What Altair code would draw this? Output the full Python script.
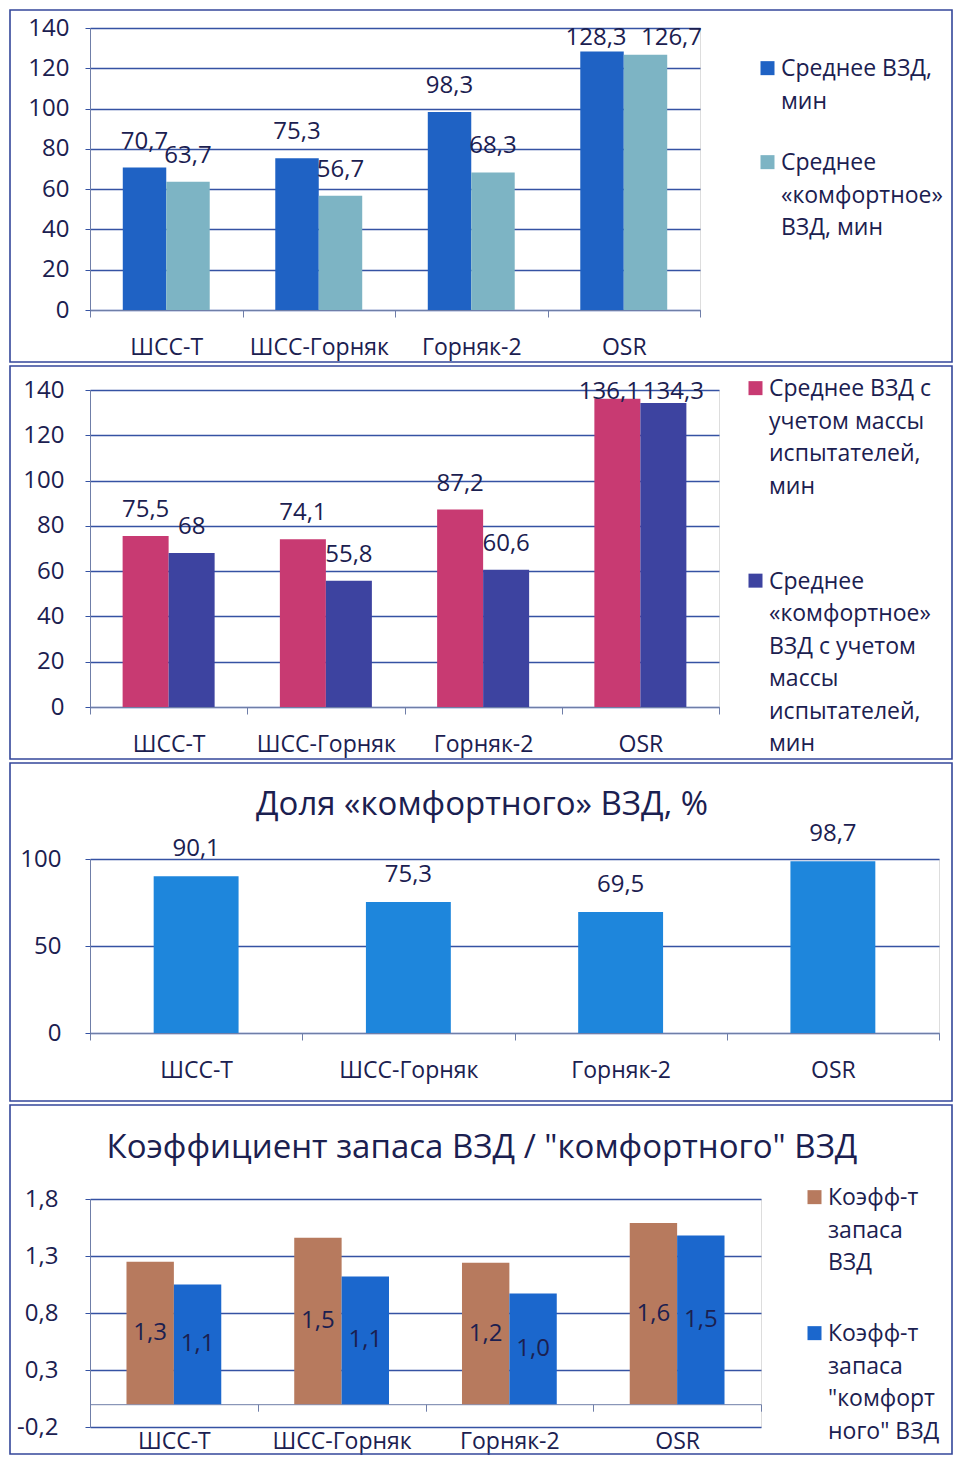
import altair as alt
import pandas as pd

# ---------------- data ----------------
categories = ["ШСС-Т", "ШСС-Горняк", "Горняк-2", "OSR"]

p1_series = ["Среднее ВЗД,|мин", "Среднее|«комфортное»|ВЗД, мин"]
p1_mean = [70.7, 75.3, 98.3, 128.3]
p1_comfort = [63.7, 56.7, 68.3, 126.7]

p2_series = ["Среднее ВЗД с|учетом массы|испытателей,|мин",
             "Среднее|«комфортное»|ВЗД с учетом|массы|испытателей,|мин"]
p2_mean = [75.5, 74.1, 87.2, 136.1]
p2_comfort = [68.0, 55.8, 60.6, 134.3]

p3_title = ["Доля «комфортного» ВЗД, %"]
p3_share = [90.1, 75.3, 69.5, 98.7]

p4_title = ['Коэффициент запаса ВЗД / "комфортного" ВЗД']
p4_series = ["Коэфф-т|запаса|ВЗД", 'Коэфф-т|запаса|"комфорт|ного" ВЗД']
p4_reserve = [1.25, 1.46, 1.24, 1.59]
p4_comfort = [1.05, 1.12, 0.97, 1.48]

p1_ticks = [0, 20, 40, 60, 80, 100, 120, 140]
p2_ticks = [0, 20, 40, 60, 80, 100, 120, 140]
p3_ticks = [0, 50, 100]
p4_ticks = [-0.2, 0.3, 0.8, 1.3, 1.8]

# ---------------- style ----------------
FONT = "Open Sans"
TXT = "#1b2050"
GRID = "#3552a3"
AXIS = "#6f7ea8"
FRAME = "#34479a"
FS = 23        # axis labels
DFS = 24       # data labels
LFS = 23       # legend labels
TFS = 33       # titles
SQUARE = "M-1,0.45H1V2.45H-1Z"
COMMA = "replace(replace(datum.label, '.', ','), '\u2212', '-')"
FRAME_X2 = 862


def long_df(series, a, b):
    rows = []
    for i, c in enumerate(categories):
        rows.append({"cat": c, "series": series[0], "si": 0, "value": a[i]})
        rows.append({"cat": c, "series": series[1], "si": 1, "value": b[i]})
    return pd.DataFrame(rows)


def frame_layer(fy, fy2):
    return alt.Chart(pd.DataFrame({"f": [0]})).mark_rect(
        fill="white", fillOpacity=0, stroke=FRAME, strokeWidth=1.6
    ).encode(x=alt.value(-80), x2=alt.value(FRAME_X2), y=alt.value(fy), y2=alt.value(fy2))


def title_layer(text, ty):
    return alt.Chart(pd.DataFrame({"t": text})).mark_text(
        font=FONT, fontSize=TFS, color=TXT, baseline="middle", align="center"
    ).encode(text="t:N", x=alt.value(392), y=alt.value(ty))


def x_axis(offset=0):
    return alt.Axis(title=None, labelAngle=0, labelFont=FONT, labelFontSize=FS,
                    labelColor=TXT, labelPadding=19, tickBand="extent", tickSize=7,
                    tickColor=AXIS, domainColor=AXIS, grid=False, offset=offset)


def y_axis(values, pad, fmt=None):
    kw = dict(title=None, values=values, grid=True, gridColor=GRID, gridWidth=1.5,
              domain=True, domainColor=AXIS, ticks=True, tickSize=5, tickColor=GRID,
              labelFont=FONT, labelFontSize=DFS, labelColor=TXT, labelPadding=pad,
              labelExpr=COMMA)
    if fmt:
        kw["format"] = fmt
    return alt.Axis(**kw)


def legend(lx, ly, rp):
    return alt.Legend(orient="none", legendX=lx, legendY=ly, title=None,
                      direction="vertical", labelExpr="split(datum.label, '|')",
                      labelFont=FONT, labelFontSize=LFS, labelColor=TXT,
                      labelBaseline="top", labelLimit=400, labelOffset=2,
                      symbolType=SQUARE, symbolSize=196, symbolStrokeWidth=0,
                      symbolOpacity=1, rowPadding=rp, padding=0)


def grouped(df, series, colors, width, height, dom, yvals, ypad, sub_pad, lg, fy, fy2,
            fmt_label, mid=False, xoff=0, yfmt=None, title=None, ty=None,
            clamp=None, shift=(0, 0)):
    units = (dom[1] - dom[0]) / height          # data units per pixel
    off = 26 * units
    cmax = dom[1] if clamp is None else clamp
    base = alt.Chart(df).transform_calculate(
        label=f"replace(format(datum.value, '{fmt_label}'), '.', ',')",
        mid="datum.value / 2",
        ly=f"min(datum.value + {off}, {cmax})",
        clamped=f"datum.value + {off} > {cmax} ? 1 : 0",
    )
    x = alt.X("cat:N", sort=categories, axis=x_axis(xoff),
              scale=alt.Scale(paddingInner=0, paddingOuter=0))
    xo = alt.XOffset("series:N", sort=series,
                     scale=alt.Scale(paddingInner=0, paddingOuter=sub_pad))
    y = alt.Y("value:Q", scale=alt.Scale(domain=dom, nice=False, zero=False),
              axis=y_axis(yvals, ypad, yfmt))
    color = alt.Color("series:N", sort=series,
                      scale=alt.Scale(domain=series, range=colors),
                      legend=legend(*lg))
    bars = base.mark_bar().encode(x=x, xOffset=xo, y=y, y2=alt.datum(0), color=color)
    layers = [frame_layer(fy, fy2), bars]
    if mid:
        layers.append(base.mark_text(font=FONT, fontSize=DFS, color=TXT, baseline="middle").encode(
            x=x, xOffset=xo, y=alt.Y("mid:Q"), text="label:N"))
    else:
        layers.append(base.transform_filter("datum.clamped == 0").mark_text(
            font=FONT, fontSize=DFS, color=TXT, baseline="middle").encode(
            x=x, xOffset=xo, y=alt.Y("ly:Q"), text="label:N"))
        for si in (0, 1):
            layers.append(base.transform_filter(f"datum.clamped == 1 && datum.si == {si}").mark_text(
                font=FONT, fontSize=DFS, color=TXT, baseline="middle", dx=shift[si]).encode(
                x=x, xOffset=xo, y=alt.Y("ly:Q"), text="label:N"))
    if title is not None:
        layers.append(title_layer(title, ty))
    return alt.layer(*layers).properties(width=width, height=height)


# Panel 1
df1 = long_df(p1_series, p1_mean, p1_comfort)
panel1 = grouped(df1, p1_series, ["#1f62c4", "#7db4c4"], 610, 282, [0, 140], p1_ticks, 16,
                 0.754, (666, 18.5, 27), -18, 334, ".1~f", clamp=135, shift=(-6, 26))

# Panel 2
df2 = long_df(p2_series, p2_mean, p2_comfort)
panel2 = grouped(df2, p2_series, ["#c83a72", "#3d43a0"], 629, 317, [0, 140], p2_ticks, 21,
                 0.709, (654, -23.5, 60.5), -24, 369, ".1~f", clamp=139.1, shift=(-8, 10))

# Panel 3
df3 = pd.DataFrame({"cat": categories, "value": p3_share})
base3 = alt.Chart(df3).transform_calculate(
    label="replace(format(datum.value, '.1~f'), '.', ',')")
x3 = alt.X("cat:N", sort=categories, axis=x_axis(),
           scale=alt.Scale(paddingInner=0, paddingOuter=0))
y3 = alt.Y("value:Q", scale=alt.Scale(domain=[0, 100], nice=False),
           axis=y_axis(p3_ticks, 24))
bars3 = base3.mark_bar(color="#1e86dc", width={"band": 0.4}).encode(x=x3, y=y3)
labels3 = base3.mark_text(font=FONT, fontSize=DFS, color=TXT, baseline="middle", dy=-27).encode(
    x=x3, y=y3, text="label:N")
panel3 = alt.layer(frame_layer(-96, 242), bars3, labels3, title_layer(p3_title, -54)).properties(
    width=849, height=174)

# Panel 4
df4 = long_df(p4_series, p4_reserve, p4_comfort)
panel4 = grouped(df4, p4_series, ["#b77a5e", "#1b67cd"], 671, 228, [-0.2, 1.8], p4_ticks, 27,
                 0.770, (713, -23.5, 36), -94, 255, ".1f", mid=True, xoff=-22.8,
                 yfmt=".1f", title=p4_title, ty=-51)

chart = alt.vconcat(panel1, panel2, panel3, panel4, spacing=0).resolve_scale(
    color="independent", x="independent", y="independent", xOffset="independent"
).properties(
    padding=0, background="white"
).configure_view(stroke=None).configure(
    style={"guide-label": {"lineHeight": 32.5}}
)

chart.save("out.html", embed_options={"renderer": "svg", "actions": False})
